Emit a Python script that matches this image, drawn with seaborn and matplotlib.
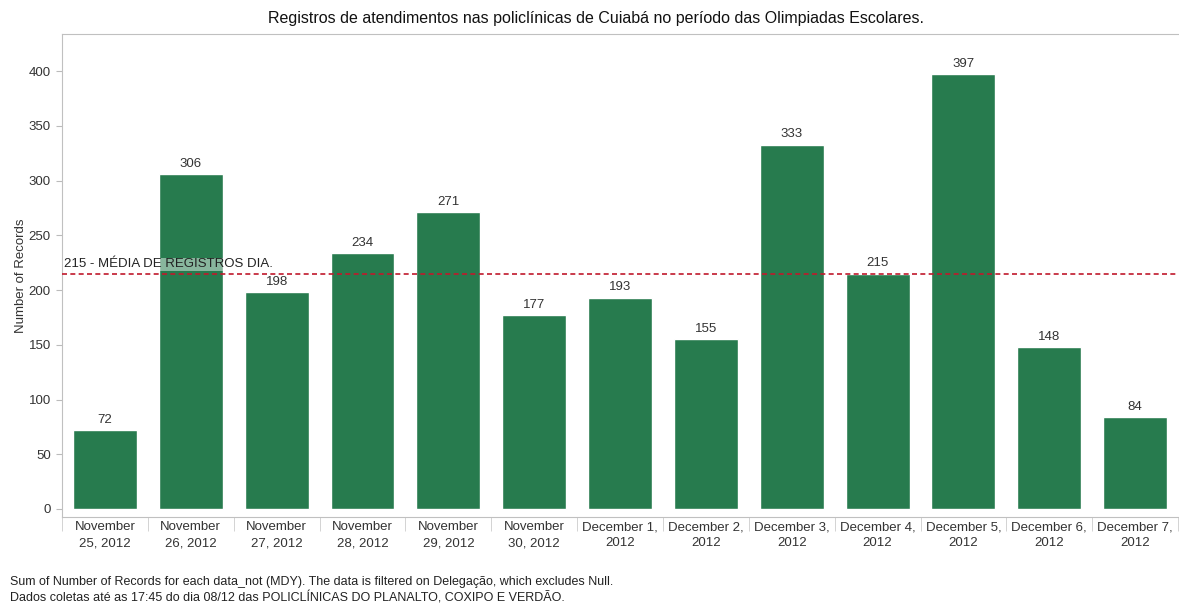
import numpy as np
import pandas as pd
import matplotlib
matplotlib.use("Agg")
import matplotlib.pyplot as plt
import seaborn as sns

# data
dates = ["November\n25, 2012", "November\n26, 2012", "November\n27, 2012",
         "November\n28, 2012", "November\n29, 2012", "November\n30, 2012",
         "December 1,\n2012", "December 2,\n2012", "December 3,\n2012",
         "December 4,\n2012", "December 5,\n2012", "December 6,\n2012",
         "December 7,\n2012"]
records = [72, 306, 198, 234, 271, 177, 193, 155, 333, 215, 397, 148, 84]
media = 215
yticks = [0, 50, 100, 150, 200, 250, 300, 350, 400]

df = pd.DataFrame({"data": dates, "records": records})

sns.set_style("white")
plt.rcParams["font.family"] = ["Liberation Sans", "DejaVu Sans"]

fig = plt.figure(figsize=(11.79, 6.06), dpi=100)
ax = fig.add_axes([0.0526, 0.1469, 0.9466, 0.797])

sns.barplot(data=df, x="data", y="records", color="#277b4e", saturation=1,
            width=0.745, ax=ax)

for i, v in enumerate(records):
    ax.text(i, v + 4, str(v), ha="center", va="bottom", fontsize=9.5,
            color="#333333")

ax.axhline(media, color="#c0192c", ls=(0, (3, 2)), lw=1.2, zorder=3)
ax.text(-0.48, media + 3, "215 - MÉDIA DE REGISTROS DIA.", fontsize=9.5,
        color="#222222", va="bottom", ha="left", zorder=4,
        bbox=dict(facecolor="white", alpha=0.45, edgecolor="none", pad=0.5))

ax.set_xlim(-0.5, len(dates) - 0.5)
ax.set_ylim(-7.3, 434)
ax.set_yticks(yticks)
ax.set_xlabel("")
ax.set_ylabel("Number of Records", fontsize=9.5, color="#333333", labelpad=1)

ax.tick_params(axis="y", length=4, color="#bbbbbb", labelsize=9.5,
               labelcolor="#333333", pad=4, left=True)
ax.tick_params(axis="x", length=0, labelsize=9.5, labelcolor="#333333", pad=3)
for lab in ax.get_xticklabels():
    lab.set_linespacing(1.45)
ax.set_xticks(np.arange(-0.5, len(dates)), minor=True)
ax.tick_params(axis="x", which="minor", length=10, color="#cccccc",
               bottom=True)

for s in ["top", "left", "bottom"]:
    ax.spines[s].set_color("#c0c0c0")
ax.spines["right"].set_visible(False)

fig.text(0.5055, 0.969, "Registros de atendimentos nas policlínicas de Cuiabá "
         "no período das Olimpiadas Escolares.", ha="center", va="center",
         fontsize=11.5, color="#111111")
fig.text(0.0085, 0.040, "Sum of Number of Records for each data_not (MDY). "
         "The data is filtered on Delegação, which excludes Null.",
         fontsize=9, color="#222222", va="center")
fig.text(0.0085, 0.013, "Dados coletas até as 17:45 do dia 08/12 das "
         "POLICLÍNICAS DO PLANALTO, COXIPO E VERDÃO.",
         fontsize=9, color="#222222", va="center")

plt.savefig("out.png", dpi=100)
plt.close()
